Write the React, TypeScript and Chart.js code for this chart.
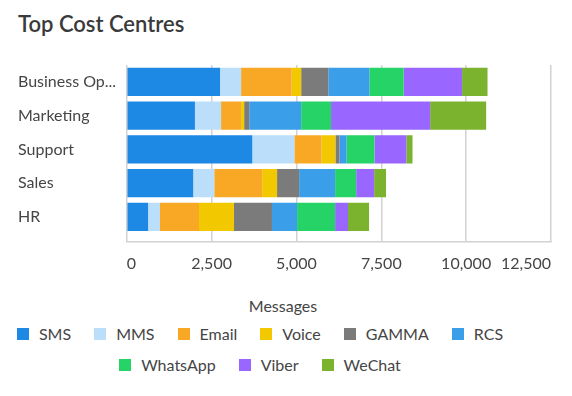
import React, { useEffect, useRef } from "react";
import { Chart, registerables } from "chart.js";

Chart.register(...registerables);

// ---- data ----
const categories = ["Business Operations", "Marketing", "Support", "Sales", "HR"];
const seriesNames = ["SMS", "MMS", "Email", "Voice", "GAMMA", "RCS", "WhatsApp", "Viber", "WeChat"];
const smsValues = [2750, 2010, 3700, 1960, 630];
const mmsValues = [620, 770, 1240, 620, 350];
const emailValues = [1490, 590, 800, 1410, 1150];
const voiceValues = [280, 90, 410, 440, 1030];
const gammaValues = [800, 150, 120, 650, 1120];
const rcsValues = [1210, 1530, 210, 1060, 740];
const whatsappValues = [1010, 880, 820, 620, 1120];
const viberValues = [1720, 2920, 940, 530, 380];
const wechatValues = [750, 1650, 180, 350, 620];
const xTickValues = [0, 2500, 5000, 7500, 10000, 12500];
const xAxisTitle = "Messages";
const chartTitle = "Top Cost Centres";

const seriesValues = [
  smsValues, mmsValues, emailValues, voiceValues, gammaValues,
  rcsValues, whatsappValues, viberValues, wechatValues,
];

// ---- styles ----
const palette = [
  "#1E88E5", "#BBDEFB", "#F9A825", "#F2C800", "#7B7B7B",
  "#3A9FE8", "#25D366", "#9966FF", "#7CB32E",
];
const FONT = "Lato, 'Noto Sans', sans-serif";
const TEXT = "#454545";
const GRID = "#d2d2d2";
const TICK_LEN = 8;
const Y_AXIS_WIDTH = 108.7;

const framePlugin = {
  id: "frameBottom",
  afterDraw(chart: any) {
    const { ctx, chartArea } = chart;
    ctx.save();
    ctx.strokeStyle = GRID;
    ctx.lineWidth = 1.5;
    ctx.beginPath();
    const y = chartArea.bottom + TICK_LEN;
    ctx.moveTo(chartArea.left - 0.75, y);
    ctx.lineTo(chartArea.right + 0.75, y);
    ctx.stroke();
    ctx.restore();
  },
};

function BarChart() {
  const ref = useRef<HTMLCanvasElement | null>(null);
  useEffect(() => {
    if (!ref.current) return;
    const chart = new Chart(ref.current, {
      type: "bar",
      data: {
        labels: categories,
        datasets: seriesNames.map((name, i) => ({
          label: name,
          data: seriesValues[i],
          backgroundColor: palette[i],
          borderWidth: 0,
          categoryPercentage: 0.84,
          barPercentage: 1,
        })),
      },
      options: {
        indexAxis: "y",
        animation: false,
        responsive: true,
        maintainAspectRatio: false,
        layout: { padding: { left: 10, right: 13, top: 16, bottom: 0 } },
        plugins: {
          legend: { display: false },
          title: { display: false },
          tooltip: { enabled: false },
        },
        scales: {
          x: {
            stacked: true,
            min: 0,
            max: 12500,
            afterBuildTicks: (scale: any) => {
              scale.ticks = xTickValues.map((v) => ({ value: v }));
            },
            grid: {
              color: GRID,
              lineWidth: 1.5,
              drawTicks: true,
              tickLength: TICK_LEN,
              tickColor: GRID,
              tickWidth: 1.5,
            },
            border: { display: false },
            ticks: {
              align: "inner",
              padding: 12,
              color: TEXT,
              font: { family: FONT, size: 16 },
            },
          },
          y: {
            stacked: true,
            grid: { display: false, drawTicks: false },
            border: { display: false },
            afterFit: (scale: any) => {
              scale.width = Y_AXIS_WIDTH;
              scale.paddingTop = 0;
              scale.paddingBottom = 0;
            },
            ticks: {
              padding: 8,
              crossAlign: "far",
              color: TEXT,
              font: { family: FONT, size: 16 },
              callback: function (this: any, v: any) {
                const l = String(this.getLabelForValue(v));
                return l.length > 11 ? l.slice(0, 11) + "..." : l;
              },
            },
          },
        },
      },
      plugins: [framePlugin],
    });
    return () => chart.destroy();
  }, []);
  return <canvas ref={ref} />;
}

export default function App() {
  return (
    <div style={{ position: "relative", height: 380, fontFamily: FONT }}>
      <div
        style={{
          position: "absolute",
          left: 10,
          top: 3,
          fontSize: 22,
          lineHeight: "26px",
          fontWeight: 600,
          color: "#3a3a3a",
        }}
      >
        {chartTitle}
      </div>
      <div style={{ position: "absolute", left: 0, right: 0, top: 41, height: 236 }}>
        <BarChart />
      </div>
      <div
        style={{
          position: "absolute",
          left: 0,
          width: 550,
          top: 288,
          textAlign: "center",
          fontSize: 16,
          lineHeight: "20px",
          color: TEXT,
        }}
      >
        {xAxisTitle}
      </div>
      <div
        style={{
          position: "absolute",
          left: -3,
          width: 510,
          top: 310,
          display: "flex",
          flexWrap: "wrap",
          justifyContent: "center",
          columnGap: 23,
          fontSize: 16,
          color: TEXT,
        }}
      >
        {seriesNames.map((n, i) => (
          <div key={n} style={{ display: "flex", alignItems: "center", height: 31 }}>
            <span
              style={{
                display: "inline-block",
                width: 12,
                height: 12,
                background: palette[i],
                marginRight: 10,
              }}
            />
            <span>{n}</span>
          </div>
        ))}
      </div>
    </div>
  );
}
